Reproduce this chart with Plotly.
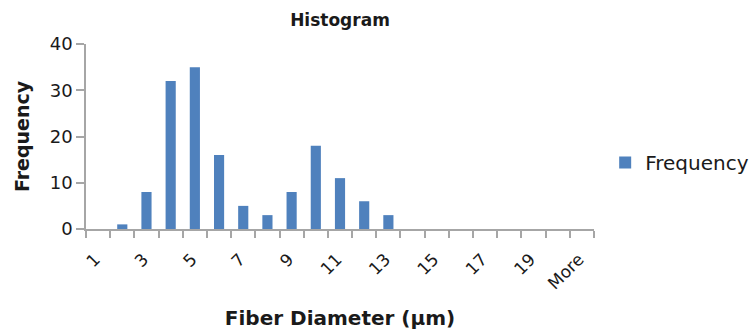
import plotly.graph_objects as go

# Histogram bins (fiber diameter, µm) and counts
bins = [str(i) for i in range(1, 21)] + ["More"]
counts = [0, 1, 8, 32, 35, 16, 5, 3, 8, 18, 11, 6, 3, 0, 0, 0, 0, 0, 0, 0, 0]

# Only every other bin is labelled
tick_text = [b if (i % 2 == 0) else "" for i, b in enumerate(bins)]

FONT = "DejaVu Sans, Liberation Sans, Arial, sans-serif"
AXIS_GRAY = "#A6A6A6"
TEXT = "#1a1a1a"

fig = go.Figure(
    go.Bar(
        x=bins,
        y=counts,
        name="Frequency",
        marker=dict(color="#4F81BD", line=dict(width=0)),
        width=0.42,
        showlegend=True,
    )
)

fig.update_layout(
    width=756,
    height=330,
    margin=dict(l=86, r=162, t=44, b=101, autoexpand=False),
    paper_bgcolor="white",
    plot_bgcolor="white",
    font=dict(family=FONT, color=TEXT),
    title=dict(
        text="<b>Histogram</b>",
        x=0.5,
        xref="paper",
        xanchor="center",
        y=0.94,
        yref="container",
        yanchor="middle",
        font=dict(size=17, family=FONT, color=TEXT),
    ),
    legend=dict(
        x=1.022,
        xanchor="left",
        y=0.36,
        yanchor="middle",
        font=dict(size=20, family=FONT, color=TEXT),
        bgcolor="rgba(0,0,0,0)",
    ),
    bargap=0.58,
)

fig.update_xaxes(
    type="category",
    categoryorder="array",
    categoryarray=bins,
    tickmode="array",
    tickvals=bins,
    ticktext=tick_text,
    tickson="boundaries",
    ticks="outside",
    ticklen=7,
    tickwidth=1.5,
    tickcolor=AXIS_GRAY,
    tickangle=-45,
    ticklabelstandoff=12,
    ticklabelshift=-3,
    tickfont=dict(size=17, family=FONT, color=TEXT),
    showline=True,
    linecolor=AXIS_GRAY,
    linewidth=1.5,
    showgrid=False,
    zeroline=False,
    automargin=False,
    title=dict(
        text="<b>Fiber Diameter (µm)</b>",
        font=dict(size=20, family=FONT, color=TEXT),
        standoff=22,
    ),
)

fig.update_yaxes(
    range=[0, 40],
    dtick=10,
    ticks="outside",
    ticklen=8,
    tickwidth=1.5,
    tickcolor=AXIS_GRAY,
    tickfont=dict(size=18, family=FONT, color=TEXT),
    showline=True,
    linecolor=AXIS_GRAY,
    linewidth=1.5,
    showgrid=False,
    zeroline=False,
    automargin=False,
    title=dict(
        text="<b>Frequency</b>",
        font=dict(size=19, family=FONT, color=TEXT),
        standoff=15,
    ),
)

fig.write_html("out.html")
